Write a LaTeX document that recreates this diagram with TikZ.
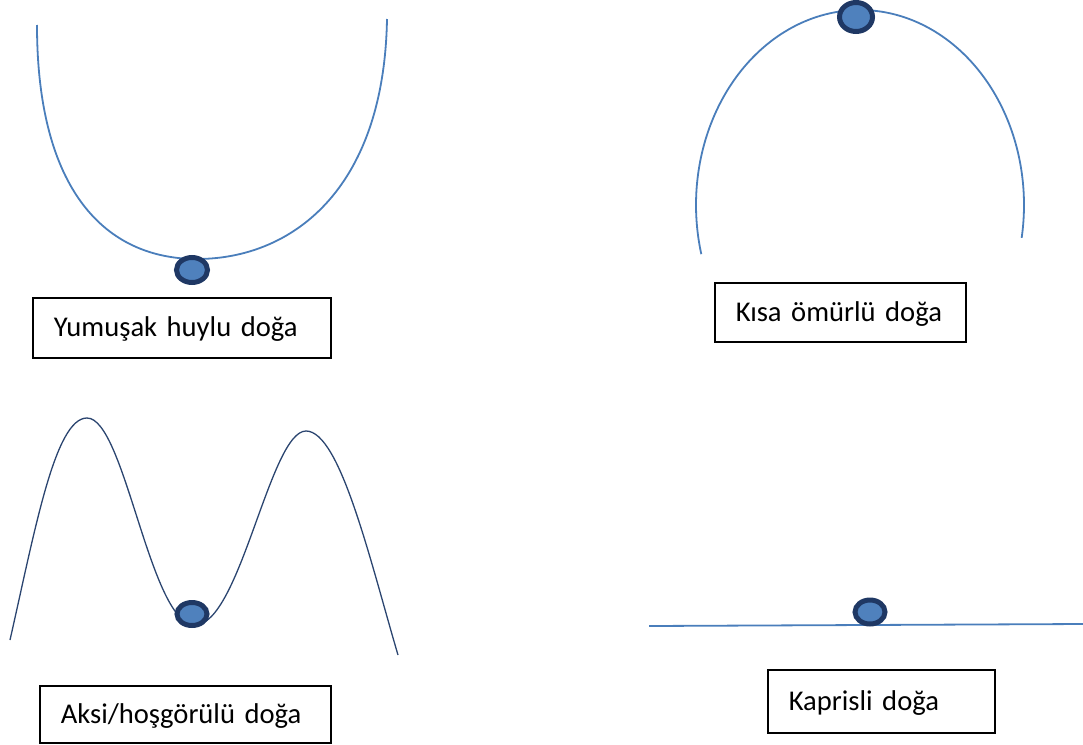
\documentclass[tikz,border=0pt]{standalone}
\usepackage{fontspec}
\setmainfont{Carlito}
\usetikzlibrary{shapes.geometric}
\definecolor{curveblue}{HTML}{4A7EBB}
\definecolor{ballfill}{HTML}{4F81BD}
\definecolor{balledge}{HTML}{1F3864}
\definecolor{mline}{HTML}{2B4570}
\begin{document}
\begin{tikzpicture}[x=1pt,y=-1pt,
  box/.style={draw=black, line width=1.6pt, anchor=north west, inner xsep=21pt, inner ysep=0pt, align=left, text height=18pt, text depth=0pt, font=\fontsize{28.6}{34}\selectfont},
  ball/.style={ellipse, draw=balledge, fill=ballfill, line width=5pt, inner sep=0pt},
  blueline/.style={draw=curveblue, line width=1.8pt},
  thinline/.style={draw=mline, line width=1.3pt}]
\useasboundingbox (0,0) rectangle (1083,744);
% curves
\draw[blueline] (37,25) .. controls (37,190) and (105,259) .. (197,259) .. controls (290,259) and (384,192) .. (387,19);
\draw[blueline] plot[domain=-9.7:194.6, samples=100, smooth] ({860+164*cos(\x)},{205-195*sin(\x)});
\draw[thinline] (10,640) .. controls (35,530) and (55,418) .. (87,418) .. controls (125,418) and (150,625) .. (195,625) .. controls (240,625) and (270,431) .. (306,431) .. controls (340,431) and (370,560) .. (398,655);
\coordinate (la) at (649,626);
\coordinate (lb) at (1083,624);
\draw[blueline] (la) -- (lb);
% balls
\node[ball, minimum width=31pt, minimum height=25pt] (b1) at (192,270) {};
\node[ball, minimum width=33pt, minimum height=29pt] (b2) at (856,17) {};
\node[ball, minimum width=30pt, minimum height=23pt] (b3) at (192,614) {};
\node[ball, minimum width=30pt, minimum height=24pt] (b4) at (870,612) {};
% labels
\node[box, text width=256pt, minimum height=60pt] (t1) at (32,297) {Yumuşak huylu doğa};
\node[box, text width=209pt, minimum height=59pt] (t2) at (714,282) {Kısa ömürlü doğa};
\node[box, text width=249pt, minimum height=57pt] (t3) at (39,685) {Aksi/hoşgörülü doğa};
\node[box, text width=185pt, minimum height=63pt] (t4) at (767,669) {Kaprisli doğa};
\end{tikzpicture}
\end{document}
